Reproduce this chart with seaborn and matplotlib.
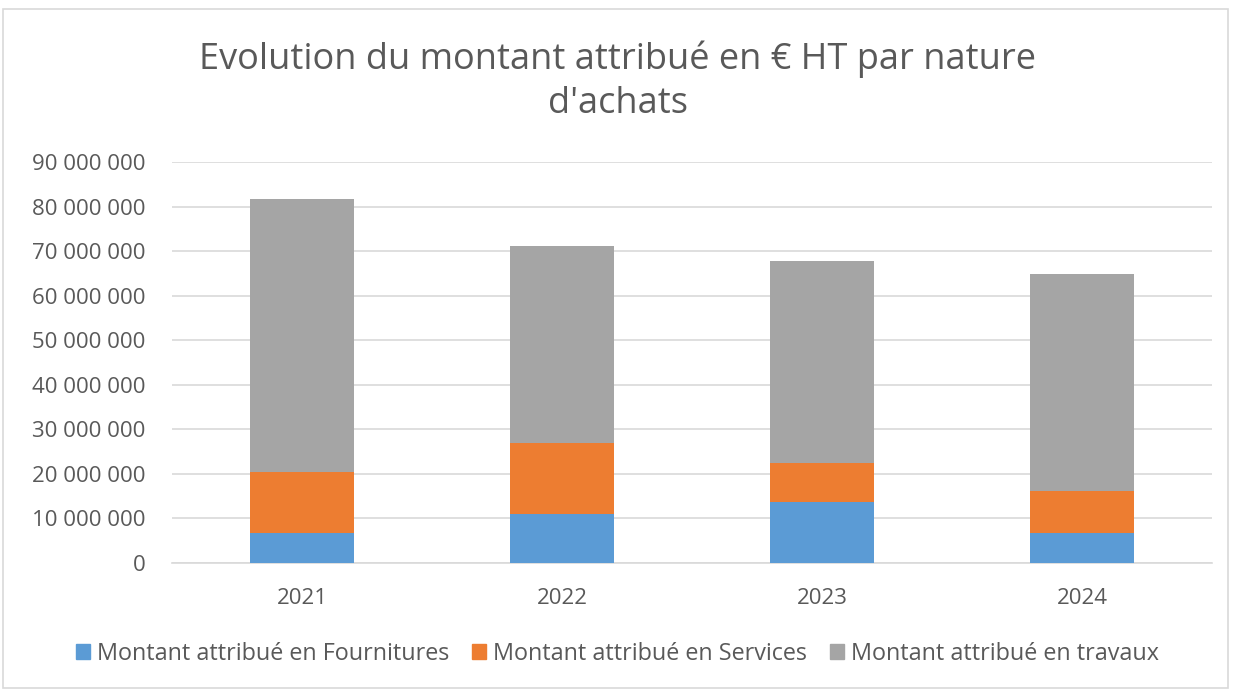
import matplotlib
matplotlib.use("Agg")
import matplotlib.pyplot as plt
import seaborn as sns
import pandas as pd
import numpy as np
from matplotlib.patches import Rectangle
from matplotlib.ticker import FuncFormatter

years = ["2021", "2022", "2023", "2024"]
fournitures = [6.8e6, 10.9e6, 13.8e6, 6.7e6]
services = [13.6e6, 16.1e6, 8.7e6, 9.5e6]
travaux = [61.3e6, 44.1e6, 45.3e6, 48.7e6]
labels = ["Montant attribué en Fournitures", "Montant attribué en Services", "Montant attribué en travaux"]
colors = ["#5B9BD5", "#ED7D31", "#A5A5A5"]

sns.set_theme(style="white")
plt.rcParams['font.family'] = ['Open Sans', 'DejaVu Sans']
txt = "#595959"

fig = plt.figure(figsize=(12.35, 6.9), dpi=100)
ax = fig.add_axes([172/1235, 1 - 563/690, 1040/1235, 401/690])

f = np.array(fournitures)
s = np.array(services)
t = np.array(travaux)
layers = [
    (f + s + t, colors[2]),
    (f + s, colors[1]),
    (f, colors[0]),
]
for vals, c in layers:
    df = pd.DataFrame({"year": years, "val": vals})
    sns.barplot(data=df, x="year", y="val", color=c, width=0.4, ax=ax,
                saturation=1, linewidth=0, zorder=3)

ax.set_ylim(0, 90e6)
ax.set_yticks(np.arange(0, 90e6 + 1, 10e6))
ax.yaxis.set_major_formatter(FuncFormatter(lambda v, p: f"{int(v):,}".replace(",", " ")))
ax.grid(axis="y", color="#D9D9D9", linewidth=1.2, zorder=0)
ax.set_axisbelow(True)
for sp in ["left", "right", "top"]:
    ax.spines[sp].set_visible(False)
ax.spines["bottom"].set_color("#D9D9D9")
ax.spines["bottom"].set_linewidth(1.2)
ax.set_xlabel("")
ax.set_ylabel("")
ax.tick_params(axis="both", colors=txt, labelsize=16, length=0)
ax.tick_params(axis="y", pad=19)
ax.tick_params(axis="x", pad=18)

fig.text(0.5, 1 - 81/690, "Evolution du montant attribué en € HT par nature\nd'achats",
         ha="center", va="center", fontsize=26, color=txt, linespacing=1.3)

handles = [Rectangle((0, 0), 1, 1, color=c) for c in colors]
fig.legend(handles, labels, loc="center", bbox_to_anchor=(0.5, 1 - 654/690), ncol=3,
           frameon=False, fontsize=16.8, labelcolor=txt, handlelength=0.6, handleheight=0.6,
           handletextpad=0.3, columnspacing=1.0)

fig.patches.append(Rectangle((3/1235, 2/690), 1225/1235, 679/690, transform=fig.transFigure,
                             fill=False, edgecolor="#D9D9D9", linewidth=1.2))

fig.savefig("out.png", dpi=100)
